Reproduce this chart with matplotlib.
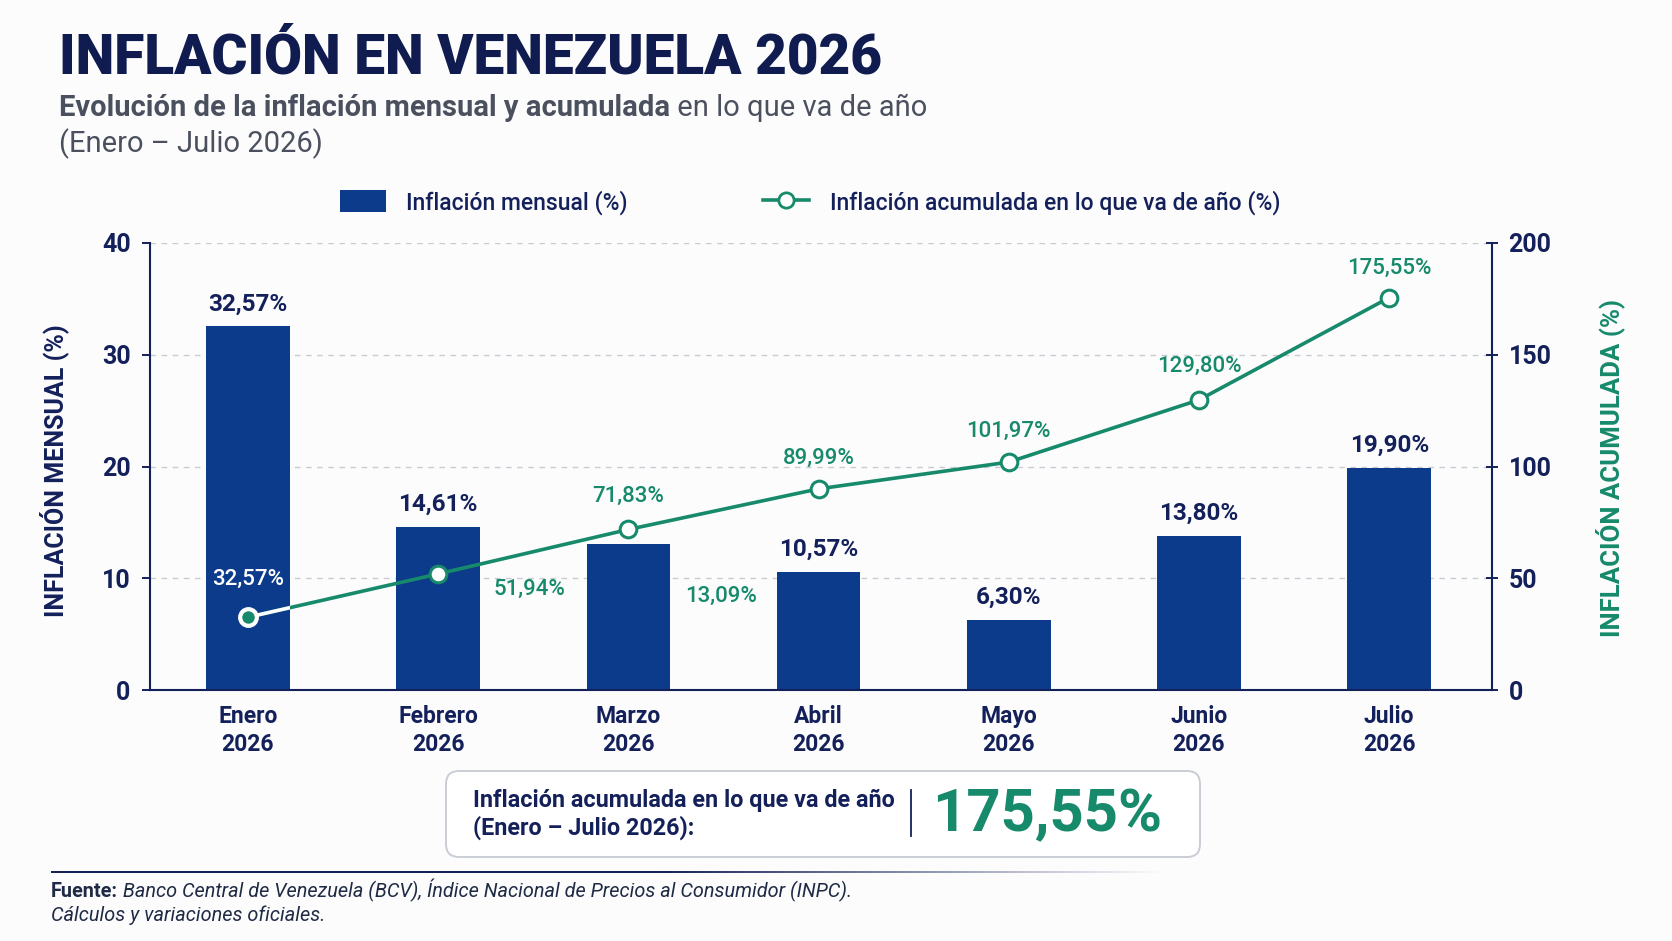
import matplotlib
matplotlib.use('Agg')
import matplotlib.pyplot as plt
from matplotlib.patches import FancyBboxPatch, Patch
from matplotlib.lines import Line2D
import numpy as np

# datos (BCV, enero - julio 2026)
meses = ['Enero', 'Febrero', 'Marzo', 'Abril', 'Mayo', 'Junio', 'Julio']
anio = '2026'
mensual = [32.57, 14.61, 13.09, 10.57, 6.30, 13.80, 19.90]
acumulada = [32.57, 51.94, 71.83, 89.99, 101.97, 129.80, 175.55]
ticks_izq = [0, 10, 20, 30, 40]
ticks_der = [0, 50, 100, 150, 200]

NAVY = '#14205a'
BLUE = '#0c3b8b'
GREEN = '#178a6b'
GRAY = '#4b505e'

plt.rcParams['font.family'] = ['Roboto', 'DejaVu Sans']


def pct(v):
    return f'{v:.2f}'.replace('.', ',') + '%'


fig = plt.figure(figsize=(16.72, 9.41), dpi=100)
fig.patch.set_facecolor('#fcfcfd')

ax = fig.add_axes([0.0897, 0.2667, 0.8026, 0.4751])
ax.set_facecolor('none')
ax2 = ax.twinx()

x = np.arange(len(meses))
bars = ax.bar(x, mensual, width=0.44, color=BLUE, zorder=2)
ax.set_xlim(-0.515, 6.54)
ax.set_ylim(0, 40)
ax2.set_ylim(0, 200)

ax.set_yticks(ticks_izq, [str(t) for t in ticks_izq], fontweight='bold', fontsize=18, color=NAVY)
ax2.set_yticks(ticks_der, [str(t) for t in ticks_der], fontweight='bold', fontsize=18, color=NAVY)
ax.set_xticks(x, [f'{m}\n{anio}' for m in meses], fontweight='bold', fontsize=16.5,
              color=NAVY, linespacing=1.25)
ax.tick_params(axis='x', length=0, pad=11)
ax.tick_params(axis='y', length=6, width=1.4, color=NAVY, pad=8)
ax2.tick_params(axis='y', length=8, width=1.4, color=NAVY, direction='inout', pad=8)

ax.grid(axis='y', color='#c8cbd1', ls=(0, (4, 4)), lw=1)
ax.set_axisbelow(True)

for s in ['top', 'right']:
    ax.spines[s].set_visible(False)
for s in ['top', 'left', 'bottom']:
    ax2.spines[s].set_visible(False)
for s in ['left', 'bottom']:
    ax.spines[s].set_color(NAVY)
    ax.spines[s].set_linewidth(1.5)
ax2.spines['right'].set_color(NAVY)
ax2.spines['right'].set_linewidth(1.5)

ax.set_ylabel('INFLACIÓN MENSUAL (%)', fontsize=18, fontweight='bold', color=NAVY)
ax.yaxis.set_label_coords(-0.0605, 0.49)
ax2.set_ylabel('INFLACIÓN ACUMULADA (%)', fontsize=18.5, fontweight='bold', color=GREEN)
ax2.yaxis.set_label_coords(1.077, 0.497)

# etiquetas de barras
for i, v in enumerate(mensual):
    if i == 2:
        ax.annotate(pct(v), (x[i], v), xytext=(67, -38), textcoords='offset points',
                    ha='center', va='center', fontsize=16, fontweight='medium', color=GREEN)
    else:
        ax.annotate(pct(v), (x[i], v), xytext=(0, 16), textcoords='offset points',
                    ha='center', va='center', fontsize=17.5, fontweight='bold', color=NAVY)

# linea acumulada
ax2.plot(x, acumulada, color=GREEN, lw=2.6, zorder=3, solid_capstyle='round')
blanca, = ax2.plot(x, acumulada, color='white', lw=2.6, zorder=3.5)
blanca.set_clip_path(bars[0])
ax2.plot(x[1:], acumulada[1:], 'o', ms=12, mfc='white', mec=GREEN, mew=2.2, zorder=4)
ax2.plot(x[:1], acumulada[:1], 'o', ms=12, mfc=GREEN, mec='white', mew=3, zorder=4)

offsets = [(0, 27), (66, -11), (0, 24), (0, 22), (0, 22), (0, 24), (0, 21)]
for i, v in enumerate(acumulada):
    col = 'white' if i == 0 else GREEN
    ax2.annotate(pct(v), (x[i], v), xytext=offsets[i], textcoords='offset points',
                 ha='center', va='center', fontsize=16, fontweight='medium', color=col)

# leyenda
handles = [
    Patch(facecolor=BLUE, label='Inflación mensual (%)'),
    Line2D([], [], color=GREEN, lw=2.6, marker='o', ms=11, mfc='white', mec=GREEN, mew=2,
           label='Inflación acumulada en lo que va de año (%)'),
]
fig.legend(handles=handles, loc='center', bbox_to_anchor=(0.4845, 0.785), ncol=2,
           frameon=False, prop={'size': 16.5, 'weight': 'medium'}, labelcolor=NAVY,
           handlelength=2.0, handleheight=1.1, handletextpad=0.9, columnspacing=5.9)

# titulos
fig.text(0.0353, 0.9224, 'INFLACIÓN EN VENEZUELA 2026', fontsize=39.5, fontweight='heavy',
         color='#101c4f', va='baseline')

r = fig.canvas.get_renderer()


def texto_mixto(xf, yf, partes, **kw):
    # une trozos de texto con distinto estilo en la misma linea
    for txt, estilo in partes:
        t = fig.text(xf, yf, txt, va='baseline', **kw, **estilo)
        bb = t.get_window_extent(renderer=r)
        xf = fig.transFigure.inverted().transform((bb.x1, 0))[0]


texto_mixto(0.0353, 1 - 116 / 941,
            [('Evolución de la inflación mensual y acumulada', {'fontweight': 'bold'}),
             (' en lo que va de año', {'fontweight': 'normal'})],
            fontsize=21, color=GRAY)
fig.text(0.0353, 1 - 152 / 941, '(Enero – Julio 2026)', fontsize=21, color=GRAY, va='baseline')

# recuadro resumen
box = FancyBboxPatch((4.46, 0.84), 7.54, 0.86, boxstyle='round,pad=0,rounding_size=0.13',
                     transform=fig.dpi_scale_trans, facecolor='white', edgecolor='#c9cdd4', lw=1.4)
fig.add_artist(box)
fig.text(0.283, 1 - 800 / 941, 'Inflación acumulada en lo que va de año', fontsize=16.8,
         fontweight='semibold', color=NAVY, va='center')
fig.text(0.283, 1 - 828 / 941, '(Enero – Julio 2026):', fontsize=16.8,
         fontweight='semibold', color=NAVY, va='center')
fig.add_artist(Line2D([0.5449, 0.5449], [0.1116, 0.1605], transform=fig.transFigure,
                      color=NAVY, lw=1.3))
fig.text(0.5574, 0.1339, pct(acumulada[-1]), fontsize=43, fontweight='bold', color=GREEN,
         va='center')

# linea del pie con degradado
lax = fig.add_axes([0.0305, 0.0722, 0.6655, 0.0026])
lax.axis('off')
t = np.linspace(0, 1, 400)
alfa = np.clip((1 - t) / 0.45, 0, 1)
grad = np.zeros((1, len(t), 4))
grad[..., 0], grad[..., 1], grad[..., 2] = 0.08, 0.13, 0.35
grad[..., 3] = alfa
lax.imshow(grad, aspect='auto', extent=(0, 1, 0, 1), interpolation='bilinear')

texto_mixto(0.0305, 1 - 897 / 941,
            [('Fuente:', {'fontweight': 'bold'}),
             (' Banco Central de Venezuela (BCV), Índice Nacional de Precios al Consumidor (INPC).',
              {'fontstyle': 'italic'})],
            fontsize=14.3, color='#1f2a44')
fig.text(0.0305, 1 - 921 / 941, 'Cálculos y variaciones oficiales.', fontsize=14.3,
         fontstyle='italic', color='#1f2a44', va='baseline')

fig.savefig('out.png', dpi=100, facecolor=fig.get_facecolor())
